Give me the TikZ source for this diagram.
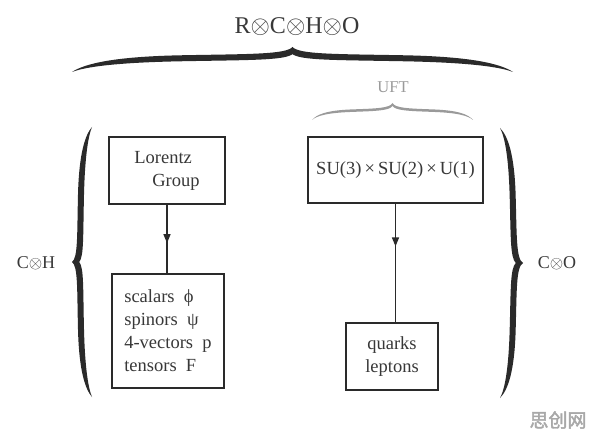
\documentclass[tikz,border=0pt]{standalone}
\usepackage{fontspec}
\setmainfont{Liberation Serif}
\newfontfamily\cjkfont[FakeBold=2]{Noto Sans CJK SC}
\usetikzlibrary{arrows.meta,decorations.markings}
\definecolor{ink}{HTML}{2A2A2A}
\definecolor{txt}{HTML}{383838}
\definecolor{ufgray}{HTML}{9A9A9A}
\definecolor{wmgray}{HTML}{A8A8A8}
\tikzset{
  pics/cbrace/.style n args={3}{code={
    \fill (0,0) .. controls ({0.03*#1},{0.35*#2}) and ({0.1*#1},{0.5*#2+0.5*#3}) .. ({0.25*#1},{0.55*#2+0.5*#3})
      .. controls ({0.4*#1},{0.6*#2+0.5*#3}) and ({0.485*#1},{0.7*#2}) .. ({0.5*#1},{#2})
      .. controls ({0.515*#1},{0.7*#2}) and ({0.6*#1},{0.6*#2+0.5*#3}) .. ({0.75*#1},{0.55*#2+0.5*#3})
      .. controls ({0.9*#1},{0.5*#2+0.5*#3}) and ({0.97*#1},{0.35*#2}) .. (#1,0)
      .. controls ({0.97*#1},{0.35*#2-0.6*#3}) and ({0.9*#1},{0.5*#2-0.5*#3}) .. ({0.75*#1},{0.55*#2-0.5*#3})
      .. controls ({0.6*#1},{0.6*#2-0.5*#3}) and ({0.52*#1},{0.7*#2-#3}) .. ({0.5*#1},{#2-1.2*#3})
      .. controls ({0.48*#1},{0.7*#2-#3}) and ({0.4*#1},{0.6*#2-0.5*#3}) .. ({0.25*#1},{0.55*#2-0.5*#3})
      .. controls ({0.1*#1},{0.5*#2-0.5*#3}) and ({0.03*#1},{0.35*#2-0.6*#3}) .. (0,0) -- cycle;
  }},
  box/.style={draw=ink, line width=1.5pt, text=txt, inner sep=0pt,
    font=\fontsize{18.5}{23}\selectfont},
  label/.style={text=txt, inner sep=0pt},
  midarrow/.style={draw=ink, line width=1.5pt, postaction={decorate},
    decoration={markings, mark=at position #1 with {\arrow{Triangle[length=9pt,width=7pt]}}}}
}
\begin{document}
\begin{tikzpicture}[x=1pt,y=1pt]
\useasboundingbox (0,0) rectangle (596,442);
\fill[white] (0,0) rectangle (596,442);

% title and braces
\node[label, font=\fontsize{24}{28}\selectfont] (title) at (297,415)
  {R{\fontsize{23}{26}\selectfont$\otimes$}C{\fontsize{23}{26}\selectfont$\otimes$}H{\fontsize{23}{26}\selectfont$\otimes$}O};
\path (72,370) pic[fill=ink]{cbrace={441}{25}{6}};

\node[label, text=ufgray, font=\fontsize{16.5}{20}\selectfont] (uft) at (393,355) {UFT};
\path (312,322) pic[fill=ufgray]{cbrace={161}{17}{2.5}};

\path (92,45) pic[rotate=90, fill=ink]{cbrace={270}{20}{6}};
\node[label, font=\fontsize{18}{22}\selectfont] (ch) at (36,179) {C{\fontsize{17}{20}\selectfont$\otimes$}H};

\path (500,314) pic[rotate=-90, fill=ink]{cbrace={270}{23}{6}};
\node[label, font=\fontsize{18}{22}\selectfont] (co) at (557,179) {C{\fontsize{17}{20}\selectfont$\otimes$}O};

% boxes
\node[box, minimum width=116pt, minimum height=67pt, align=left] (lg) at (167,271.5)
  {Lorentz\\\hspace{18pt}Group\hspace{9pt}};
\node[box, minimum width=175pt, minimum height=66pt] (su) at (395.5,272)
  {SU(3)\,×\,SU(2)\,×\,U(1)};
\node[box, minimum width=112pt, minimum height=114pt, align=left] (fields) at (168,111)
  {scalars\ \ ϕ\\spinors\ \ ψ\\4-vectors\ \ p\\tensors\ \ F};
\node[box, minimum width=92pt, minimum height=67pt, align=center] (ql) at (392,85.5)
  {quarks\\leptons};

% connectors
\draw[midarrow=0.56] (lg.south) -- (lg.south |- fields.north);
\draw[midarrow=0.36] (su.south) -- (su.south |- ql.north);

% watermark
\node[text=wmgray, inner sep=0pt, font=\cjkfont\fontsize{19}{22}\selectfont] (wm) at (558,22) {思创网};
\end{tikzpicture}
\end{document}
